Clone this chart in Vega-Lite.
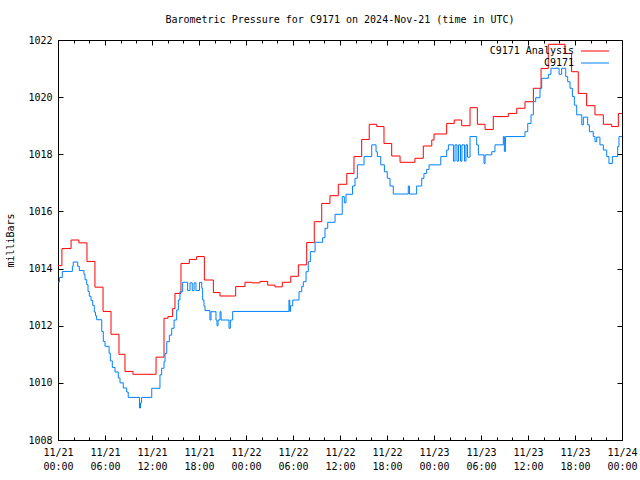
{
  "$schema": "https://vega.github.io/schema/vega-lite/v6.json",
  "width": 564,
  "height": 400,
  "autosize": {"type": "none"},
  "padding": {"left": 58, "top": 40, "right": 18, "bottom": 40},
  "background": "white",
  "title": {"text": "Barometric Pressure for C9171 on 2024-Nov-21 (time in UTC)", "font": "DejaVu Sans Mono", "fontSize": 10, "fontWeight": "normal", "color": "black", "anchor": "middle", "offset": 10},
  "config": {
    "font": "DejaVu Sans Mono",
    "view": {"stroke": "black", "strokeWidth": 1},
    "axis": {"grid": false, "domain": false, "labelFont": "DejaVu Sans Mono", "labelFontSize": 10, "labelColor": "black", "tickColor": "black", "tickWidth": 1, "titleFont": "DejaVu Sans Mono", "titleFontSize": 10, "titleFontWeight": "normal", "titleColor": "black"}
  },
  "datasets": {
    "analysis": [
      {"t":"2024-11-21T00:00Z","p":1014.1},{"t":"2024-11-21T00:30Z","p":1014.7},{"t":"2024-11-21T01:40Z","p":1015.0},{"t":"2024-11-21T02:40Z","p":1014.9},{"t":"2024-11-21T03:42Z","p":1014.25},{"t":"2024-11-21T04:43Z","p":1013.35},{"t":"2024-11-21T05:45Z","p":1012.5},{"t":"2024-11-21T06:46Z","p":1011.7},{"t":"2024-11-21T07:47Z","p":1011.0},{"t":"2024-11-21T08:33Z","p":1010.4},{"t":"2024-11-21T09:34Z","p":1010.3},{"t":"2024-11-21T12:31Z","p":1010.9},{"t":"2024-11-21T13:32Z","p":1012.26},{"t":"2024-11-21T14:02Z","p":1012.32},{"t":"2024-11-21T14:38Z","p":1012.6},{"t":"2024-11-21T14:56Z","p":1013.13},{"t":"2024-11-21T15:42Z","p":1014.18},{"t":"2024-11-21T16:46Z","p":1014.32},{"t":"2024-11-21T17:42Z","p":1014.42},{"t":"2024-11-21T18:41Z","p":1013.6},{"t":"2024-11-21T19:50Z","p":1013.16},{"t":"2024-11-21T20:41Z","p":1013.04},{"t":"2024-11-21T22:41Z","p":1013.37},{"t":"2024-11-21T23:52Z","p":1013.52},
      {"t":"2024-11-22T00:46Z","p":1013.5},{"t":"2024-11-22T01:47Z","p":1013.55},{"t":"2024-11-22T02:46Z","p":1013.42},{"t":"2024-11-22T03:42Z","p":1013.36},{"t":"2024-11-22T04:38Z","p":1013.52},{"t":"2024-11-22T05:43Z","p":1013.73},{"t":"2024-11-22T06:41Z","p":1014.13},{"t":"2024-11-22T07:45Z","p":1014.91},{"t":"2024-11-22T08:43Z","p":1015.64},{"t":"2024-11-22T09:40Z","p":1016.28},{"t":"2024-11-22T10:43Z","p":1016.55},{"t":"2024-11-22T11:47Z","p":1016.95},{"t":"2024-11-22T12:52Z","p":1017.33},{"t":"2024-11-22T13:47Z","p":1017.92},{"t":"2024-11-22T14:46Z","p":1018.52},{"t":"2024-11-22T15:44Z","p":1019.05},{"t":"2024-11-22T16:41Z","p":1018.97},{"t":"2024-11-22T17:37Z","p":1018.38},{"t":"2024-11-22T18:36Z","p":1017.94},{"t":"2024-11-22T19:40Z","p":1017.72},{"t":"2024-11-22T21:34Z","p":1017.86},{"t":"2024-11-22T22:38Z","p":1018.29},{"t":"2024-11-22T23:43Z","p":1018.5},
      {"t":"2024-11-23T00:00Z","p":1018.71},{"t":"2024-11-23T01:37Z","p":1019.08},{"t":"2024-11-23T02:35Z","p":1019.2},{"t":"2024-11-23T03:32Z","p":1019.0},{"t":"2024-11-23T04:36Z","p":1019.63},{"t":"2024-11-23T05:32Z","p":1019.05},{"t":"2024-11-23T06:31Z","p":1018.87},{"t":"2024-11-23T07:34Z","p":1019.32},{"t":"2024-11-23T09:29Z","p":1019.43},{"t":"2024-11-23T10:34Z","p":1019.61},{"t":"2024-11-23T11:37Z","p":1019.84},{"t":"2024-11-23T12:41Z","p":1020.31},{"t":"2024-11-23T13:40Z","p":1021.0},{"t":"2024-11-23T14:35Z","p":1021.85},{"t":"2024-11-23T16:43Z","p":1021.53},{"t":"2024-11-23T17:34Z","p":1020.89},{"t":"2024-11-23T18:25Z","p":1020.13},{"t":"2024-11-23T19:29Z","p":1019.7},{"t":"2024-11-23T20:33Z","p":1019.38},{"t":"2024-11-23T21:37Z","p":1019.05},{"t":"2024-11-23T22:41Z","p":1018.97},{"t":"2024-11-23T23:32Z","p":1019.43},{"t":"2024-11-24T00:00Z","p":1019.43}
    ],
    "obs": [
      {"t":"2024-11-21T00:00Z","p":1013.53},{"t":"2024-11-21T00:11Z","p":1013.69},{"t":"2024-11-21T00:33Z","p":1013.9},{"t":"2024-11-21T01:50Z","p":1014.08},{"t":"2024-11-21T01:57Z","p":1014.23},{"t":"2024-11-21T02:31Z","p":1014.08},{"t":"2024-11-21T02:43Z","p":1013.93},{"t":"2024-11-21T03:19Z","p":1013.79},{"t":"2024-11-21T03:27Z","p":1013.61},{"t":"2024-11-21T03:40Z","p":1013.44},{"t":"2024-11-21T03:50Z","p":1013.2},{"t":"2024-11-21T04:00Z","p":1013.03},{"t":"2024-11-21T04:13Z","p":1012.88},{"t":"2024-11-21T04:26Z","p":1012.71},{"t":"2024-11-21T04:38Z","p":1012.48},{"t":"2024-11-21T04:47Z","p":1012.35},{"t":"2024-11-21T04:56Z","p":1012.21},{"t":"2024-11-21T05:35Z","p":1011.8},{"t":"2024-11-21T05:47Z","p":1011.45},{"t":"2024-11-21T06:00Z","p":1011.28},{"t":"2024-11-21T06:31Z","p":1011.04},{"t":"2024-11-21T06:41Z","p":1010.77},{"t":"2024-11-21T06:56Z","p":1010.54},{"t":"2024-11-21T07:17Z","p":1010.38},{"t":"2024-11-21T07:42Z","p":1010.17},{"t":"2024-11-21T07:55Z","p":1010.0},{"t":"2024-11-21T08:20Z","p":1009.82},{"t":"2024-11-21T08:46Z","p":1009.68},{"t":"2024-11-21T08:58Z","p":1009.49},{"t":"2024-11-21T10:24Z","p":1009.12},{"t":"2024-11-21T10:32Z","p":1009.3},{"t":"2024-11-21T10:40Z","p":1009.49},{"t":"2024-11-21T11:58Z","p":1009.81},{"t":"2024-11-21T13:01Z","p":1010.28},{"t":"2024-11-21T13:14Z","p":1010.51},{"t":"2024-11-21T13:32Z","p":1010.74},{"t":"2024-11-21T13:40Z","p":1011.03},{"t":"2024-11-21T13:53Z","p":1011.44},{"t":"2024-11-21T14:13Z","p":1011.67},{"t":"2024-11-21T14:31Z","p":1011.91},{"t":"2024-11-21T14:49Z","p":1012.2},{"t":"2024-11-21T15:09Z","p":1012.55},{"t":"2024-11-21T15:22Z","p":1012.9},{"t":"2024-11-21T15:34Z","p":1013.19},{"t":"2024-11-21T15:55Z","p":1013.52},{"t":"2024-11-21T16:33Z","p":1013.23},{"t":"2024-11-21T16:51Z","p":1013.5},{"t":"2024-11-21T17:08Z","p":1013.23},{"t":"2024-11-21T17:22Z","p":1013.5},{"t":"2024-11-21T17:37Z","p":1013.23},{"t":"2024-11-21T18:04Z","p":1013.52},{"t":"2024-11-21T18:21Z","p":1013.31},{"t":"2024-11-21T18:28Z","p":1012.9},{"t":"2024-11-21T18:38Z","p":1012.69},{"t":"2024-11-21T18:46Z","p":1012.53},{"t":"2024-11-21T19:24Z","p":1012.2},{"t":"2024-11-21T19:32Z","p":1012.49},{"t":"2024-11-21T20:10Z","p":1012.2},{"t":"2024-11-21T20:18Z","p":1012.0},{"t":"2024-11-21T20:26Z","p":1012.2},{"t":"2024-11-21T20:41Z","p":1012.49},{"t":"2024-11-21T20:49Z","p":1012.2},{"t":"2024-11-21T21:50Z","p":1011.91},{"t":"2024-11-21T22:00Z","p":1012.2},{"t":"2024-11-21T22:18Z","p":1012.5},
      {"t":"2024-11-22T05:29Z","p":1012.9},{"t":"2024-11-22T05:35Z","p":1012.5},{"t":"2024-11-22T05:41Z","p":1012.7},{"t":"2024-11-22T05:58Z","p":1012.9},{"t":"2024-11-22T06:46Z","p":1013.19},{"t":"2024-11-22T07:07Z","p":1013.37},{"t":"2024-11-22T07:19Z","p":1013.54},{"t":"2024-11-22T07:40Z","p":1013.89},{"t":"2024-11-22T07:57Z","p":1014.24},{"t":"2024-11-22T08:13Z","p":1014.59},{"t":"2024-11-22T08:49Z","p":1014.92},{"t":"2024-11-22T09:47Z","p":1015.08},{"t":"2024-11-22T10:05Z","p":1015.41},{"t":"2024-11-22T10:26Z","p":1015.62},{"t":"2024-11-22T11:22Z","p":1015.9},{"t":"2024-11-22T12:17Z","p":1016.52},{"t":"2024-11-22T12:33Z","p":1016.3},{"t":"2024-11-22T12:46Z","p":1016.6},{"t":"2024-11-22T13:36Z","p":1016.89},{"t":"2024-11-22T13:55Z","p":1017.16},{"t":"2024-11-22T14:13Z","p":1017.63},{"t":"2024-11-22T15:04Z","p":1017.92},{"t":"2024-11-22T16:03Z","p":1018.33},{"t":"2024-11-22T16:36Z","p":1018.09},{"t":"2024-11-22T16:46Z","p":1017.92},{"t":"2024-11-22T17:12Z","p":1017.63},{"t":"2024-11-22T17:40Z","p":1017.39},{"t":"2024-11-22T18:02Z","p":1017.16},{"t":"2024-11-22T18:23Z","p":1016.89},{"t":"2024-11-22T18:48Z","p":1016.61},{"t":"2024-11-22T20:43Z","p":1016.89},{"t":"2024-11-22T20:52Z","p":1016.61},{"t":"2024-11-22T21:47Z","p":1016.89},{"t":"2024-11-22T22:26Z","p":1017.16},{"t":"2024-11-22T22:43Z","p":1017.33},{"t":"2024-11-22T23:04Z","p":1017.47},{"t":"2024-11-22T23:22Z","p":1017.63},
      {"t":"2024-11-23T00:52Z","p":1017.92},{"t":"2024-11-23T01:37Z","p":1018.15},{"t":"2024-11-23T01:50Z","p":1018.33},{"t":"2024-11-23T02:29Z","p":1017.76},{"t":"2024-11-23T02:41Z","p":1018.33},{"t":"2024-11-23T02:56Z","p":1017.76},{"t":"2024-11-23T03:08Z","p":1018.33},{"t":"2024-11-23T03:23Z","p":1017.76},{"t":"2024-11-23T03:34Z","p":1018.33},{"t":"2024-11-23T03:54Z","p":1017.76},{"t":"2024-11-23T04:05Z","p":1018.33},{"t":"2024-11-23T04:17Z","p":1017.9},{"t":"2024-11-23T04:36Z","p":1018.62},{"t":"2024-11-23T05:27Z","p":1018.33},{"t":"2024-11-23T05:40Z","p":1017.98},{"t":"2024-11-23T06:23Z","p":1017.68},{"t":"2024-11-23T06:31Z","p":1017.98},{"t":"2024-11-23T07:22Z","p":1018.09},{"t":"2024-11-23T07:47Z","p":1018.33},{"t":"2024-11-23T08:51Z","p":1018.62},{"t":"2024-11-23T08:59Z","p":1018.1},{"t":"2024-11-23T09:07Z","p":1018.62},{"t":"2024-11-23T11:37Z","p":1018.79},{"t":"2024-11-23T11:58Z","p":1019.08},{"t":"2024-11-23T12:23Z","p":1019.38},{"t":"2024-11-23T12:41Z","p":1019.84},{"t":"2024-11-23T12:59Z","p":1019.98},{"t":"2024-11-23T13:32Z","p":1020.31},{"t":"2024-11-23T13:45Z","p":1020.66},{"t":"2024-11-23T14:36Z","p":1020.8},{"t":"2024-11-23T14:56Z","p":1021.01},{"t":"2024-11-23T15:58Z","p":1020.8},{"t":"2024-11-23T16:18Z","p":1021.01},{"t":"2024-11-23T16:49Z","p":1020.72},{"t":"2024-11-23T17:04Z","p":1020.54},{"t":"2024-11-23T17:22Z","p":1020.31},{"t":"2024-11-23T17:40Z","p":1020.02},{"t":"2024-11-23T17:55Z","p":1019.72},{"t":"2024-11-23T18:13Z","p":1019.38},{"t":"2024-11-23T18:52Z","p":1019.03},{"t":"2024-11-23T19:04Z","p":1019.3},{"t":"2024-11-23T19:37Z","p":1019.03},{"t":"2024-11-23T19:50Z","p":1018.79},{"t":"2024-11-23T20:20Z","p":1018.62},{"t":"2024-11-23T20:33Z","p":1018.44},{"t":"2024-11-23T20:46Z","p":1018.6},{"t":"2024-11-23T21:11Z","p":1018.33},{"t":"2024-11-23T21:37Z","p":1018.15},{"t":"2024-11-23T22:03Z","p":1017.92},{"t":"2024-11-23T22:20Z","p":1017.68},{"t":"2024-11-23T22:46Z","p":1017.92},{"t":"2024-11-23T23:27Z","p":1018.27},{"t":"2024-11-23T23:37Z","p":1018.62},{"t":"2024-11-24T00:00Z","p":1018.62}
    ]
  },
  "resolve": {"axis": {"x": "independent", "y": "independent"}},
  "layer": [
    {
      "data": {"name": "analysis"},
      "mark": {"type": "line", "interpolate": "step-after", "strokeWidth": 1, "clip": true},
      "encoding": {
        "x": {"field": "t", "type": "temporal", "scale": {"type": "utc", "domain": [1732147200000, 1732406400000]},
          "axis": {"orient": "bottom", "title": null, "values": [1732147200000, 1732168800000, 1732190400000, 1732212000000, 1732233600000, 1732255200000, 1732276800000, 1732298400000, 1732320000000, 1732341600000, 1732363200000, 1732384800000, 1732406400000], "tickSize": -5,
            "labelExpr": "[utcFormat(datum.value, '%m/%d'), utcFormat(datum.value, '%H:%M')]",
            "labelOverlap": false, "labelFlush": false, "labelPadding": 12, "labelLineHeight": 14, "labelBaseline": "top"}},
        "y": {"field": "p", "type": "quantitative", "scale": {"domain": [1008, 1022], "nice": false, "zero": false},
          "axis": {"orient": "left", "title": "milliBars", "format": "d", "values": [1008, 1010, 1012, 1014, 1016, 1018, 1020, 1022], "tickSize": -5, "labelPadding": 11,
            "titleX": -48, "titleY": 200, "titleAngle": -90, "titleAlign": "center", "titleBaseline": "middle"}},
        "color": {"datum": "C9171 Analysis", "type": "nominal", "scale": {"domain": ["C9171 Analysis", "C9171"], "range": ["#ff0000", "#0080ff"]},
          "legend": {"orient": "none", "legendX": 532, "legendY": 6, "title": null, "symbolType": "M-4,0H4", "symbolSize": 49, "symbolStrokeWidth": 1, "rowPadding": 2, "labelAlign": "right", "labelOffset": -26, "labelFont": "DejaVu Sans Mono", "labelFontSize": 10, "labelColor": "black", "padding": 0}}
      }
    },
    {
      "data": {"name": "obs"},
      "mark": {"type": "line", "interpolate": "step-after", "strokeWidth": 1, "clip": true},
      "encoding": {
        "x": {"field": "t", "type": "temporal",
          "axis": {"orient": "bottom", "title": null, "labels": false, "tickSize": -3,
            "values": [1732154400000, 1732161600000, 1732176000000, 1732183200000, 1732197600000, 1732204800000, 1732219200000, 1732226400000, 1732240800000, 1732248000000, 1732262400000, 1732269600000, 1732284000000, 1732291200000, 1732305600000, 1732312800000, 1732327200000, 1732334400000, 1732348800000, 1732356000000, 1732370400000, 1732377600000, 1732392000000, 1732399200000]}},
        "y": {"field": "p", "type": "quantitative",
          "axis": {"orient": "right", "title": null, "labels": false, "values": [1008, 1010, 1012, 1014, 1016, 1018, 1020, 1022], "tickSize": -5}},
        "color": {"datum": "C9171", "type": "nominal"}
      }
    },
    {
      "data": {"name": "obs"},
      "mark": {"type": "line", "opacity": 0},
      "encoding": {
        "x": {"field": "t", "type": "temporal",
          "axis": {"orient": "top", "title": null, "labels": false, "tickSize": -5,
            "values": [1732147200000, 1732168800000, 1732190400000, 1732212000000, 1732233600000, 1732255200000, 1732276800000, 1732298400000, 1732320000000, 1732341600000, 1732363200000, 1732384800000, 1732406400000]}},
        "y": {"field": "p", "type": "quantitative", "axis": null}
      }
    },
    {
      "data": {"name": "obs"},
      "mark": {"type": "line", "opacity": 0},
      "encoding": {
        "x": {"field": "t", "type": "temporal",
          "axis": {"orient": "top", "title": null, "labels": false, "tickSize": -3,
            "values": [1732154400000, 1732161600000, 1732176000000, 1732183200000, 1732197600000, 1732204800000, 1732219200000, 1732226400000, 1732240800000, 1732248000000, 1732262400000, 1732269600000, 1732284000000, 1732291200000, 1732305600000, 1732312800000, 1732327200000, 1732334400000, 1732348800000, 1732356000000, 1732370400000, 1732377600000, 1732392000000, 1732399200000]}},
        "y": {"field": "p", "type": "quantitative", "axis": null}
      }
    }
  ]
}
